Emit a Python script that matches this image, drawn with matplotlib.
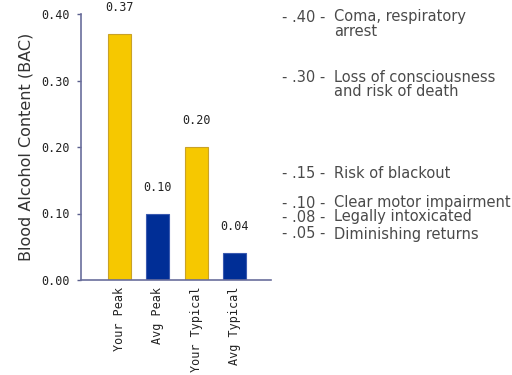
import matplotlib
matplotlib.use('Agg')
import matplotlib.pyplot as plt

# chart data
categories = ['Your Peak', 'Avg Peak', 'Your Typical', 'Avg Typical']
bac_values = [0.37, 0.10, 0.20, 0.04]
bar_colors = ['#F6C800', '#002E96', '#F6C800', '#002E96']
edge_colors = ['#C9A227', '#3A5AB0', '#C9A227', '#3A5AB0']
y_ticks = [0.00, 0.10, 0.20, 0.30, 0.40]

# BAC effect scale shown beside the chart
effect_levels = ['.40', '.30', '.15', '.10', '.08', '.05']
effect_text = [
    ['Coma, respiratory', 'arrest'],
    ['Loss of consciousness', 'and risk of death'],
    ['Risk of blackout'],
    ['Clear motor impairment'],
    ['Legally intoxicated'],
    ['Diminishing returns'],
]
effect_y_px = [17, 77, 173, 203, 217, 234]

fig = plt.figure(figsize=(5.12, 3.75), dpi=100)
ax = fig.add_axes([81 / 512, 1 - 280 / 375, 190 / 512, 266 / 375])

positions = range(1, len(categories) + 1)
ax.bar(positions, bac_values, width=0.6, color=bar_colors,
       edgecolor=edge_colors, linewidth=0.8, zorder=2)

mono = dict(family='DejaVu Sans Mono', fontsize=8.5, color='#222222')
for x, v in zip(positions, bac_values):
    ax.text(x, v + 0.03, f'{v:.2f}', ha='center', va='bottom', clip_on=False, **mono)

ax.set_xlim(0, 4.94)
ax.set_ylim(0, 0.40)
ax.set_yticks(y_ticks)
ax.set_yticklabels([f'{t:.2f}' for t in y_ticks], **mono)
ax.set_xticks(list(positions))
ax.set_xticklabels(categories, rotation=90, va='top', **mono)
ax.tick_params(axis='x', length=0, pad=5)
ax.tick_params(axis='y', length=3, width=1, color='#5A5F8C', pad=5)

for side in ['top', 'right']:
    ax.spines[side].set_visible(False)
for side in ['left', 'bottom']:
    ax.spines[side].set_color('#6A6E9C')
    ax.spines[side].set_linewidth(1.2)

ax.set_ylabel('Blood Alcohol Content (BAC)', fontsize=11.5, color='#333333',
              family='DejaVu Sans', labelpad=6)

side = dict(fontsize=10.5, color='#4A4A4A', va='center', ha='left', family='DejaVu Sans')
for level, lines, ypx in zip(effect_levels, effect_text, effect_y_px):
    fig.text(282 / 512, 1 - ypx / 375, f'- {level} -', **side)
    for i, line in enumerate(lines):
        fig.text(334 / 512, 1 - (ypx + 14 * i) / 375, line, **side)

fig.savefig('out.png', dpi=100)
